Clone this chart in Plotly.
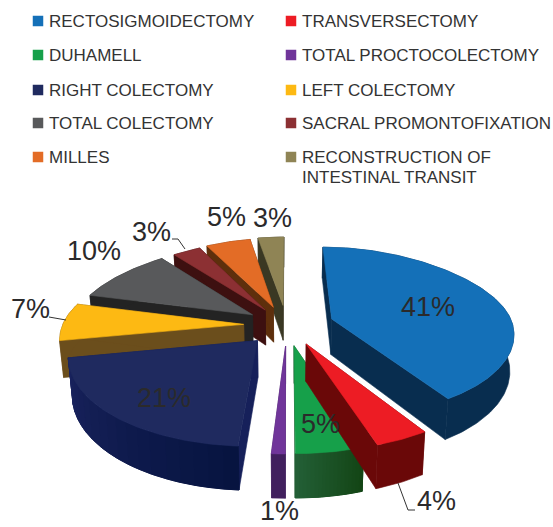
import math
import plotly.graph_objects as go

# ---- data ----
categories = ["RECTOSIGMOIDECTOMY", "TRANSVERSECTOMY", "DUHAMELL", "TOTAL PROCTOCOLECTOMY",
              "RIGHT COLECTOMY", "LEFT COLECTOMY", "TOTAL COLECTOMY", "SACRAL PROMONTOFIXATION",
              "MILLES", "RECONSTRUCTION OF<br>INTESTINAL TRANSIT"]
values = [41, 4, 5, 1, 21, 7, 10, 3, 5, 3]

# ---- styles ----
top_colors = ["#1470B8", "#ED1C24", "#16A04A", "#70359A", "#1F2A5F",
              "#FDB913", "#58595B", "#8C3033", "#E36C26", "#8F8455"]
wall_a = ["#082D4F", "#6A0808", "#235F36", "#41205E", "#19235E",
          "#6B4E1C", "#232323", "#3D1010", "#5E2F0C", "#3A3823"]
wall_b = ["#082D4F", "#6A0808", "#134515", "#41205E", "#071440",
          "#6B4E1C", "#232323", "#3D1010", "#5E2F0C", "#3A3823"]
side_colors = ["#082D4F", "#6A0808", "#1F5A30", "#41205E", "#16205A",
               "#6B4E1C", "#232323", "#3D1010", "#5E2F0C", "#3A3823"]
draw_order = [9, 8, 7, 6, 5, 0, 4, 3, 2, 1]

legend_col = [33, 286]
legend_rows = [21, 55, 90, 123, 157]
legend_text_dx = 13.5
legend_line = 20
label_xy = [(428, 307), (436, 501), (320, 424), (279, 511), (164, 398),
            (30, 309), (94, 251), (151, 232), (226, 217), (272, 218)]
leaders = [[(49, 317), (66, 320)], [(172, 239), (178, 239), (185, 249)],
           [(398, 483), (408, 510), (415, 510)]]
TEXT = "#2B2A2B"

# ---- projection of the exploded 3-D pie ----
CX, CY, RX, RY, K, C_FAR, H = 287, 325, 181, 84.4, 0.152, 0.083, 36
pulls = [0.26, 0.24, 0.24, 0.24, 0.24, 0.24, 0.23, 0.22, 0.23, 0.24]


def project(x, y, z=0.0):
    s = 1 / (1 + K * y)
    sx = 1 / (1 + K * y + C_FAR * max(y, 0) ** 2)
    taper = 1 - 0.018 * z
    return CX + RX * x * sx * taper, CY - RY * y * s + H * s * z


def hexrgb(c):
    return [int(c[i:i + 2], 16) for i in (1, 3, 5)]


def mix(a, b, t):
    p, q = hexrgb(a), hexrgb(b)
    return "rgb({},{},{})".format(*[round(p[i] + (q[i] - p[i]) * t) for i in range(3)])


fig = go.Figure()


def poly(points, color, width=0.6):
    fig.add_trace(go.Scatter(
        x=[p[0] for p in points] + [points[0][0]],
        y=[p[1] for p in points] + [points[0][1]],
        mode="lines", fill="toself", fillcolor=color,
        line=dict(color=color, width=width), hoverinfo="skip", showlegend=False))


total = sum(values)
edges = [0.0]
for v in values:
    edges.append(edges[-1] + v / total * 2 * math.pi)

for i in draw_order:
    a0, a1 = edges[i], edges[i + 1]
    mid = (a0 + a1) / 2
    ox, oy = pulls[i] * math.sin(mid), pulls[i] * math.cos(mid)
    n = max(3, int((a1 - a0) / math.radians(1.0)))
    arc = [(ox + math.sin(a0 + (a1 - a0) * j / n), oy + math.cos(a0 + (a1 - a0) * j / n))
           for j in range(n + 1)]
    apex = (ox, oy)
    for e in (arc[0], arc[-1]):
        poly([project(*apex), project(*e), project(*e, 1), project(*apex, 1)], side_colors[i])
    # rim: one solid face, then a stepped shade where the rim has a gradient
    poly([project(*p) for p in arc] + [project(*p, 1) for p in reversed(arc)],
         mix(wall_a[i], wall_b[i], 0.5))
    if wall_a[i] != wall_b[i]:
        steps = 18
        for k in range(steps):
            j0, j1 = n * k // steps, n * (k + 1) // steps
            if j0 == j1:
                continue
            t = 1 - k / (steps - 1)
            seg = arc[j0:j1 + 1]
            c = mix(wall_a[i], wall_b[i], t)
            poly([project(*p) for p in seg] + [project(*p, 1) for p in reversed(seg)], c, 1.0)
    poly([project(*apex)] + [project(*p) for p in arc], top_colors[i])

# ---- legend ----
annotations = []
for idx, name in enumerate(categories):
    col, row = idx % 2, idx // 2
    lx, ly = legend_col[col], legend_rows[row]
    fig.add_trace(go.Scatter(x=[lx + 5], y=[ly], mode="markers",
                             marker=dict(symbol="square", size=10.5, color=top_colors[idx]),
                             hoverinfo="skip", showlegend=False))
    for k, part in enumerate(name.split("<br>")):
        annotations.append(dict(x=lx + legend_text_dx, y=ly + k * legend_line,
                                text=part, showarrow=False,
                                xanchor="left", yanchor="middle", align="left",
                                font=dict(family="Liberation Sans", size=17, color="#333333")))

# ---- percent labels ----
for v, (lx, ly) in zip(values, label_xy):
    annotations.append(dict(x=lx, y=ly, text=f"{v}%", showarrow=False,
                            xanchor="center", yanchor="middle",
                            font=dict(family="Liberation Sans", size=27, color=TEXT)))

for pts in leaders:
    fig.add_trace(go.Scatter(x=[p[0] for p in pts], y=[p[1] for p in pts], mode="lines",
                             line=dict(color="#333333", width=1), hoverinfo="skip", showlegend=False))

fig.update_layout(
    width=553, height=527, margin=dict(l=0, r=0, t=0, b=0),
    paper_bgcolor="white", plot_bgcolor="white", showlegend=False,
    annotations=annotations,
    xaxis=dict(range=[0, 553], visible=False, fixedrange=True),
    yaxis=dict(range=[527, 0], visible=False, fixedrange=True),
)
fig.write_html("out.html", config={"displayModeBar": False},
               post_script="document.body.style.margin='0';")
